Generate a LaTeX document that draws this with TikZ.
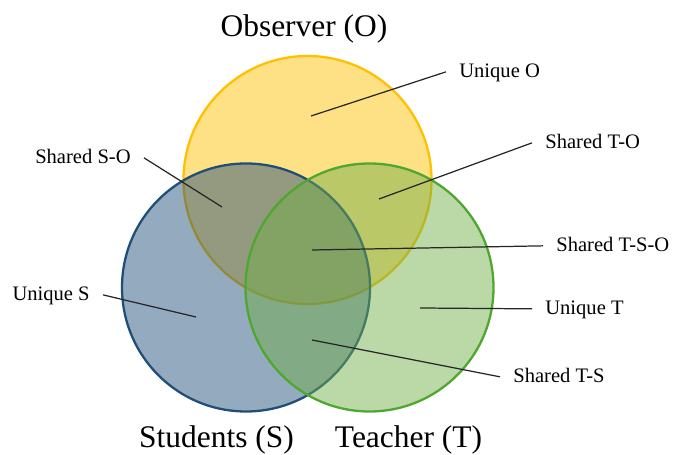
\documentclass[tikz,border=0pt]{standalone}
\usepackage{fontspec}
\setmainfont{Liberation Serif}

\definecolor{obsYellow}{HTML}{FFC000}
\definecolor{stuBlue}{HTML}{1F4E79}
\definecolor{teaGreen}{HTML}{70AD47}
\definecolor{teaEdge}{HTML}{4EA72E}

\begin{document}
\begin{tikzpicture}[
    setcirc/.style={line width=1.3pt, fill opacity=0.48},
    lbl/.style={inner xsep=0.26cm, inner ysep=0pt, text height=0.75em, text depth=0.05em,
                font=\fontsize{11.7}{14}\selectfont},
    bigname/.style={inner sep=0pt, font=\fontsize{17.9}{21}\selectfont},
    pointer/.style={line width=0.7pt, black!85}]
    	\useasboundingbox (0,0) rectangle (13.46,9.1);

    	% the three sets, O under S under T
    	\draw[setcirc, draw=obsYellow, fill=obsYellow] (6.15,5.5) circle (2.48);
    	\draw[setcirc, draw=stuBlue, fill=stuBlue] (4.92,3.35) circle (2.48);
    	\draw[setcirc, draw=teaEdge, fill=teaGreen] (7.39,3.35) circle (2.48);

    	\node[bigname, anchor=base] (obs) at (6.08,8.36) {Observer (O)};
    	\node[bigname, anchor=base] (stu) at (4.33,0.14) {Students (S)};
    	\node[bigname, anchor=base] (tea) at (8.17,0.14) {Teacher (T)};

    	% where each pointer ends
    	\coordinate (cUO) at (6.22,6.78);
    	\coordinate (cTO) at (7.58,5.12);
    	\coordinate (cSO) at (4.44,4.96);
    	\coordinate (cTSO) at (6.24,4.10);
    	\coordinate (cUS) at (3.92,2.76);
    	\coordinate (cUT) at (8.40,2.94);
    	\coordinate (cTS) at (6.24,2.30);

    	\node[lbl, anchor=base west] (uo) at (8.92,7.54) {Unique O};
    	\node[lbl, anchor=base west] (to) at (10.64,6.12) {Shared T-O};
    	\node[lbl, anchor=base west] (tso) at (10.86,4.06) {Shared T-S-O};
    	\node[lbl, anchor=base west] (ut) at (10.64,2.80) {Unique T};
    	\node[lbl, anchor=base west] (ts) at (10.00,1.44) {Shared T-S};
    	\node[lbl, anchor=base east] (so) at (2.88,5.82) {Shared S-O};
    	\node[lbl, anchor=base east] (us) at (2.06,3.08) {Unique S};

    	\draw[pointer] (uo.west) -- (cUO);
    	\draw[pointer] (to.west) -- (cTO);
    	\draw[pointer] (tso.west) -- (cTSO);
    	\draw[pointer] (ut.west) -- (cUT);
    	\draw[pointer] (ts.west) -- (cTS);
    	\draw[pointer] (so.east) -- (cSO);
    	\draw[pointer] (us.east) -- (cUS);
\end{tikzpicture}
\end{document}
